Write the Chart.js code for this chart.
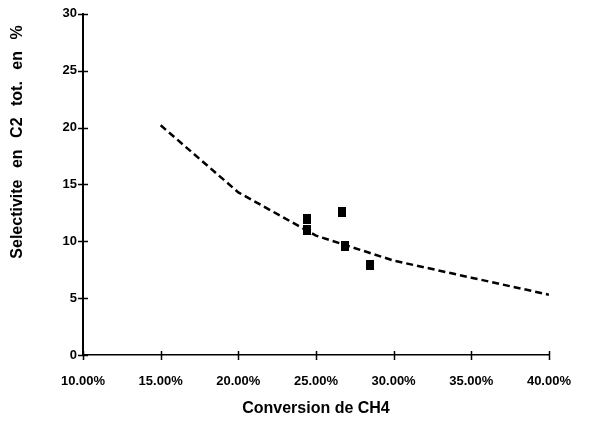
<!DOCTYPE html>
<html>
<head>
<meta charset="utf-8">
<script src="https://cdn.jsdelivr.net/npm/chart.js@4/dist/chart.umd.min.js"></script>
<style>
  html, body { margin: 0; padding: 0; background: #fff; }
  canvas { display: block; }
</style>
</head>
<body>
<canvas id="selectivity-chart" width="590" height="424"></canvas>
<script>
// measured runs: CH4 conversion (%) vs total C2 selectivity (%)
const measuredConversion = [24.4, 24.4, 26.7, 26.9, 28.5]
const measuredSelectivity = [12.0, 11.0, 12.6, 9.6, 7.9]

// model curve
const curveConversion = [15, 20, 25, 30, 35, 40]
const curveSelectivity = [20.2, 14.3, 10.5, 8.3, 6.8, 5.3]

const xTicks = [10, 15, 20, 25, 30, 35, 40]
const yTicks = [0, 5, 10, 15, 20, 25, 30]

const yTitle = 'Selectivite en C2 tot. en %'
const xTitle = 'Conversion de CH4'

window.addEventListener('DOMContentLoaded', () => {
  const canvas = document.getElementById('selectivity-chart')
  const ink = '#000'
  const fontFamily = '"Liberation Sans", Arial, sans-serif'

  // small filled block used as the marker for the measured runs
  const marker = document.createElement('canvas')
  marker.width = 8
  marker.height = 10
  const mctx = marker.getContext('2d')
  mctx.fillStyle = ink
  mctx.fillRect(0, 0, 8, 10)

  // tick marks that cross the axis line, plus the rotated y title
  const axisDecor = {
    id: 'axisDecor',
    afterDraw(chart) {
      const { ctx, scales: { x, y } } = chart
      const x0 = x.getPixelForValue(xTicks[0])
      const y0 = y.getPixelForValue(yTicks[0])
      ctx.save()
      ctx.strokeStyle = ink
      ctx.lineWidth = 1.5
      ctx.beginPath()
      yTicks.forEach(v => {
        const py = Math.round(y.getPixelForValue(v)) + 0.5
        ctx.moveTo(x0 - 5, py)
        ctx.lineTo(x0 + 5, py)
      })
      xTicks.forEach(v => {
        const px = Math.round(x.getPixelForValue(v)) + 0.5
        ctx.moveTo(px, y0 - 4)
        ctx.lineTo(px, y0 + 5)
      })
      ctx.stroke()

      ctx.translate(18, 142)
      ctx.rotate(-Math.PI / 2)
      ctx.font = `bold 16px ${fontFamily}`
      if ('wordSpacing' in ctx) ctx.wordSpacing = '7px'
      ctx.fillStyle = ink
      ctx.textAlign = 'center'
      ctx.textBaseline = 'middle'
      ctx.fillText(yTitle, 0, 0)
      ctx.restore()
    }
  }

  const tickFont = { family: fontFamily, size: 13, weight: 'bold' }

  new Chart(canvas.getContext('2d'), {
    type: 'scatter',
    data: {
      datasets: [{
        data: measuredConversion.map((c, i) => ({ x: c, y: measuredSelectivity[i] })),
        pointStyle: marker,
        backgroundColor: ink,
        order: 0
      }, {
        type: 'line',
        data: curveConversion.map((c, i) => ({ x: c, y: curveSelectivity[i] })),
        borderColor: ink,
        borderWidth: 2.5,
        borderDash: [7, 4],
        pointRadius: 0,
        tension: 0,
        fill: false,
        order: 1
      }]
    },
    options: {
      responsive: false,
      animation: false,
      layout: {
        padding: { top: 10, right: 41, left: 0, bottom: 0 }
      },
      plugins: {
        legend: { display: false },
        tooltip: { enabled: false }
      },
      scales: {
        x: {
          type: 'linear',
          min: 10,
          max: 40,
          afterBuildTicks: scale => { scale.ticks = xTicks.map(value => ({ value })) },
          afterFit: scale => { scale.height = 69 },
          grid: { display: false, drawTicks: false, tickLength: 0 },
          border: { display: true, color: ink, width: 1.5 },
          ticks: {
            color: ink,
            padding: 19,
            maxRotation: 0,
            font: tickFont,
            callback: v => v.toFixed(2) + '%'
          },
          title: {
            display: true,
            text: xTitle,
            color: ink,
            font: { family: fontFamily, size: 16, weight: 'bold' },
            padding: { top: 0, bottom: 6 }
          }
        },
        y: {
          min: 0,
          max: 30,
          afterBuildTicks: scale => { scale.ticks = yTicks.map(value => ({ value })) },
          afterFit: scale => { scale.width = 83 },
          grid: { display: false, drawTicks: false, tickLength: 0 },
          border: { display: true, color: ink, width: 2 },
          ticks: {
            color: ink,
            padding: 6,
            font: tickFont
          }
        }
      }
    },
    plugins: [axisDecor]
  })
})
</script>
</body>
</html>
